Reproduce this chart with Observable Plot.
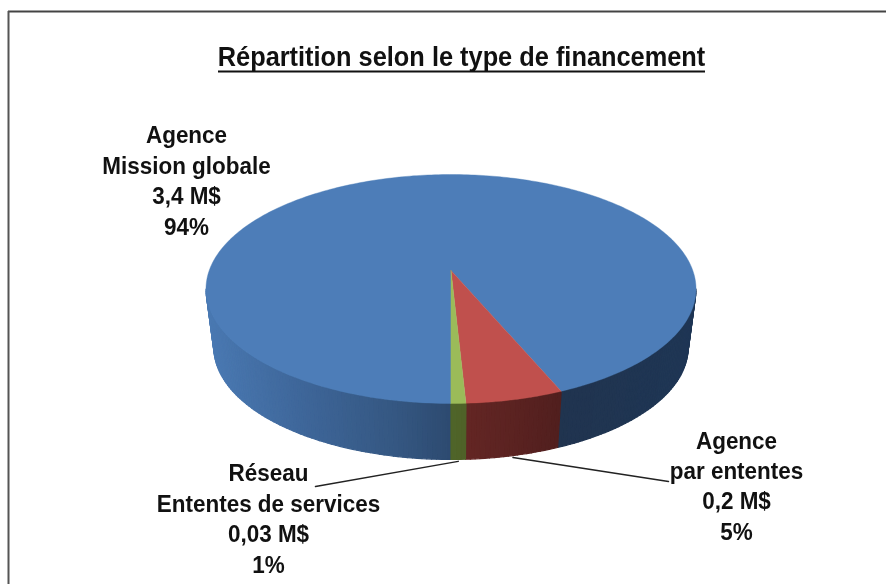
<!DOCTYPE html>
<html lang="fr">
<head>
<meta charset="utf-8">
<script src="https://cdn.jsdelivr.net/npm/d3@7"></script>
<script src="https://cdn.jsdelivr.net/npm/@observablehq/plot@0.6"></script>
<style>html,body{margin:0;padding:0;background:#fff}svg{display:block}</style>
</head>
<body>
<div id="chart"></div>
<script>
// Data
const titleText = "Répartition selon le type de financement";
const sliceNames = ["Agence\nMission globale", "Agence\npar ententes", "Réseau\nEntentes de services"];
const sliceMillions = [3.4, 0.2, 0.03];
const sliceAmounts = ["3,4 M$", "0,2 M$", "0,03 M$"];
const slicePercents = ["94%", "5%", "1%"];
const sliceColors = ["#4d7db8", "#c0504d", "#9bbb59"];

// Style & layout
const W = 886, H = 584;
const FONT = "Liberation Sans, Arial, sans-serif";
const persp = 0.1616;
const topDisk = {cx: 450.5, cy: 270, rx: 241.8, ry: 111.5};
const botDisk = {cx: 450.5, cy: 328.8, rx: 234, ry: 109.1};
const sideStops = [
  [[206, "#4a79b2"], [300, "#3e6699"], [400, "#345680"], [450, "#2d4a70"], [560, "#20344f"], [695, "#1f3655"]],
  [[465, "#642624"], [560, "#511f1e"]],
  [[450, "#4f6529"], [465, "#4f6228"]]
];
const labelCenters = [[186, 178.5], [736, 484], [268, 516.5]];
const leaderEnds = [null, [668, 481], [315, 486]];

const rad = d => d * Math.PI / 180;
function project(disk, t) {
  const u = -Math.sin(rad(t)), v = Math.cos(rad(t)), w = 1 - persp * v;
  return [disk.cx + disk.rx * u / w, disk.cy + disk.ry * v / w];
}
const total = d3.sum(sliceMillions);
let acc = 0;
const slices = sliceMillions.map((m, i) => {
  const t0 = acc; acc += m / total * 360;
  return {i, t0, t1: acc, mid: (t0 + acc) / 2};
});

// Top faces
const topPts = [];
for (const s of slices) {
  topPts.push({s: s.i, x: topDisk.cx, y: topDisk.cy, c: sliceColors[s.i]});
  const n = Math.ceil(s.t1 - s.t0);
  for (let k = 0; k <= n; k++) {
    const [x, y] = project(topDisk, s.t0 + (s.t1 - s.t0) * k / n);
    topPts.push({s: s.i, x, y, c: sliceColors[s.i]});
  }
}

// Side wall strips; the visible wall lies between the two tangents
const tangent = Math.acos(persp) * 180 / Math.PI;
const sidePts = [];
function sideColor(i, x) {
  const st = sideStops[i];
  return d3.scaleLinear().domain(st.map(d => d[0])).range(st.map(d => d[1])).clamp(true)(x);
}
let strip = 0;
function addWall(i, a, b) {
  if (b <= a) return;
  const n = Math.max(1, Math.ceil(b - a));
  for (let k = 0; k < n; k++) {
    const t0 = a + (b - a) * k / n, t1 = a + (b - a) * (k + 1) / n;
    const p0 = project(topDisk, t0), p1 = project(topDisk, t1);
    const q1 = project(botDisk, t1), q0 = project(botDisk, t0);
    const c = sideColor(i, (p0[0] + p1[0]) / 2);
    for (const p of [p0, p1, q1, q0]) sidePts.push({id: strip, x: p[0], y: p[1], c});
    strip++;
  }
}
addWall(0, 0, tangent);
addWall(0, 360 - tangent, slices[0].t1);
addWall(1, slices[1].t0, slices[1].t1);
addWall(2, slices[2].t0, slices[2].t1);

// Labels and leaders
const labels = slices.map(s => ({
  text: `${sliceNames[s.i]}\n${sliceAmounts[s.i]}\n${slicePercents[s.i]}`,
  x: labelCenters[s.i][0], y: labelCenters[s.i][1]
}));
const leaders = [];
slices.forEach(s => {
  if (!leaderEnds[s.i]) return;
  const p = project(botDisk, s.mid);
  leaders.push({id: s.i, x: p[0], y: p[1] + 2});
  leaders.push({id: s.i, x: leaderEnds[s.i][0], y: leaderEnds[s.i][1]});
});

const chart = Plot.plot({
  width: W, height: H, margin: 0,
  x: {domain: [0, W], range: [0, W], axis: null},
  y: {domain: [0, H], range: [0, H], axis: null},
  style: {background: "#fff", fontFamily: FONT, filter: "blur(0.4px)"},
  marks: [
    Plot.line(sidePts, {x: "x", y: "y", z: "id", fill: "c", stroke: "c", strokeWidth: 1.2, curve: "linear-closed"}),
    Plot.line(topPts, {x: "x", y: "y", z: "s", fill: "c", stroke: "c", strokeWidth: 0.4, curve: "linear-closed"}),
    Plot.line(leaders, {x: "x", y: "y", z: "id", stroke: "#222", strokeWidth: 1.5}),
    Plot.text(labels, {x: "x", y: "y", text: "text", fill: "#111", fontSize: 24.5, fontWeight: 700, lineHeight: 1.245, textAnchor: "middle", className: "lab"}),
    Plot.text([titleText], {x: () => 461, y: () => 56, text: d => d, fill: "#111", fontSize: 28.5, fontWeight: 700, textAnchor: "middle", className: "ttl"}),
    Plot.ruleY([71], {x1: 218, x2: 705, stroke: "#111", strokeWidth: 2}),
    Plot.ruleY([11], {x1: 8, x2: W, stroke: "#444", strokeWidth: 2}),
    Plot.ruleX([8], {y1: 11, y2: H, stroke: "#555", strokeWidth: 2})
  ]
});
// Condense the text horizontally, as in the reference
chart.querySelectorAll(".lab text").forEach(t => t.setAttribute("transform", (t.getAttribute("transform") || "") + " scale(0.917,1)"));
chart.querySelectorAll(".ttl text").forEach(t => t.setAttribute("transform", (t.getAttribute("transform") || "") + " scale(0.89,1)"));
document.getElementById("chart").appendChild(chart);
</script>
</body>
</html>
